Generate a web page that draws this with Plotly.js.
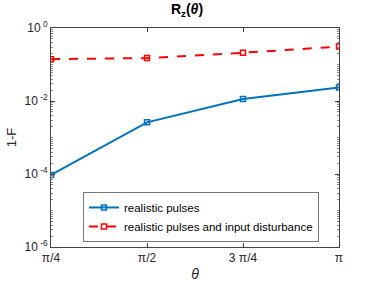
<!DOCTYPE html>
<html><head><meta charset="utf-8">
<script src="https://cdn.plot.ly/plotly-3.0.1.min.js"></script>
<style>html,body{margin:0;padding:0;background:#fff}#chart{width:374px;height:286px}</style>
</head><body><div id="chart"></div>
<script>
const thetaPos = [1, 2, 3, 4];
const thetaLabels = ['π/4', 'π/2', '3 π/4', 'π'];
const realistic = [9.4e-5, 2.6e-3, 1.13e-2, 2.35e-2];
const disturbed = [0.14, 0.15, 0.21, 0.31];
const yTickVals = [1, 1e-2, 1e-4, 1e-6];
const yTickText = ['10<sup> 0</sup>', '10<sup> -2</sup>', '10<sup> -4</sup>', '10<sup> -6</sup>'];

const traces = [
  {x: thetaPos, y: realistic, name: 'realistic pulses', mode: 'lines+markers',
   line: {color: '#0072BD', width: 2}, marker: {symbol: 'square-open', size: 5, color: '#0072BD', line: {width: 1.5}}},
  {x: thetaPos, y: disturbed, name: 'realistic pulses and input disturbance', mode: 'lines+markers',
   line: {color: '#FF0000', width: 2, dash: 'dash'}, marker: {symbol: 'square-open', size: 5, color: '#FF0000', line: {width: 1.5}}}
];
const axcol = '#444';
const layout = {
  width: 374, height: 286,
  margin: {l: 51, r: 35, t: 28, b: 39},
  paper_bgcolor: '#fff', plot_bgcolor: '#fff',
  font: {family: 'Liberation Sans, Arial, sans-serif', size: 12, color: '#262626'},
  showlegend: true,
  title: {text: '<b>R<sub>z</sub>(<i>θ</i>)</b>', x: 0.5, xanchor: 'center', y: 0.985, yanchor: 'top', font: {size: 14, color: '#000'}},
  xaxis: {range: [1, 4], tickmode: 'array', tickvals: thetaPos, ticktext: thetaLabels,
    showline: true, linecolor: axcol, linewidth: 1, mirror: 'ticks', ticks: 'inside', ticklen: 4, tickcolor: axcol,
    showgrid: false, zeroline: false, tickfont: {size: 12},
    title: {text: '<i>θ</i>', font: {size: 14}, standoff: 4}},
  yaxis: {type: 'log', range: [-6, 0], tickmode: 'array', tickvals: yTickVals, ticktext: yTickText,
    showline: true, linecolor: axcol, linewidth: 1, mirror: 'ticks', ticks: 'inside', ticklen: 4, tickcolor: axcol,
    showgrid: false, zeroline: false, tickfont: {size: 12},
    minor: {dtick: 'D1', ticks: 'inside', ticklen: 2, tickcolor: '#888', showgrid: false},
    title: {text: '1-F', font: {size: 13}, standoff: 4}},
  legend: {x: 0.111, y: 0.023, xanchor: 'left', yanchor: 'bottom', bgcolor: '#fff', bordercolor: '#777', borderwidth: 1,
    font: {size: 11.5, color: '#000'}, tracegroupgap: 0, itemwidth: 30}
};
Plotly.newPlot('chart', traces, layout, {displayModeBar: false, staticPlot: true});
</script></body></html>
